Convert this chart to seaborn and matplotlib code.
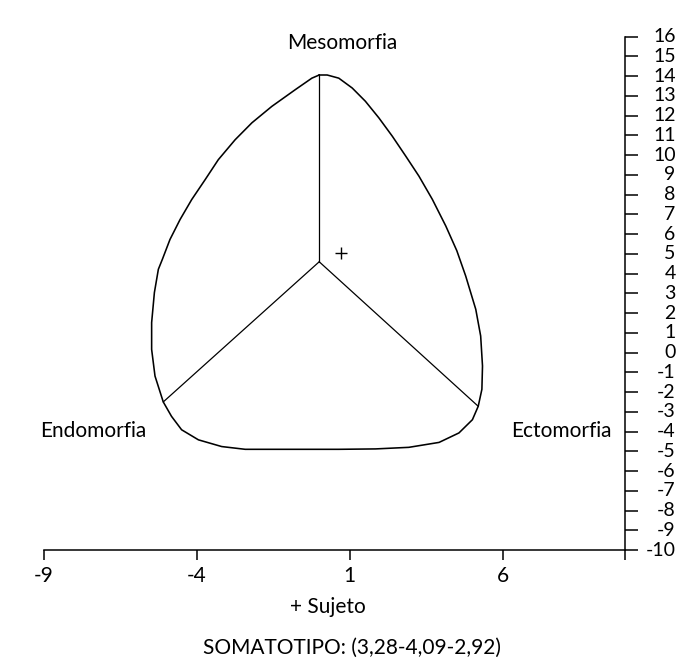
import matplotlib
matplotlib.use("Agg")
import matplotlib.pyplot as plt
import seaborn as sns
import pandas as pd

# ---- data ----
outline_x = [0.0, 0.26, 0.64, 1.08, 1.51, 1.95, 2.39, 2.83, 3.26, 3.70, 4.14, 4.50,
             4.79, 5.12, 5.28, 5.34, 5.32, 5.20, 5.01, 4.57, 3.92, 2.93, 1.84, 0.64,
             -0.34, -1.00, -2.42, -3.19, -3.95, -4.50, -4.83, -5.10, -5.37, -5.48,
             -5.48, -5.39, -5.26, -5.13, -4.88, -4.55, -4.17, -3.73, -3.30, -2.75,
             -2.20, -1.55, -0.78, -0.24, 0.0]
outline_y = [14.06, 14.06, 13.90, 13.40, 12.73, 11.89, 10.96, 9.95, 8.94, 7.76, 6.41, 5.16,
             3.88, 2.19, 0.84, -0.68, -1.86, -2.72, -3.40, -4.07, -4.55, -4.80, -4.88, -4.90,
             -4.90, -4.90, -4.90, -4.76, -4.42, -3.91, -3.23, -2.50, -1.19, 0.16,
             1.52, 3.04, 4.22, 4.72, 5.73, 6.74, 7.75, 8.76, 9.77, 10.78,
             11.64, 12.47, 13.32, 13.90, 14.06]

center_x, center_y = 0.0, 4.60
spoke_end_x = [0.0, -5.10, 5.20]
spoke_end_y = [14.06, -2.50, -2.72]

subject_x = [0.7]
subject_y = [5.05]

x_ticks = [-9, -4, 1, 6, 10]
x_tick_labels = ["-9", "-4", "1", "6", ""]
y_ticks = list(range(-10, 17))
y_tick_labels = [str(v) for v in y_ticks]

vertex_labels = ["Mesomorfia", "Endomorfia", "Ectomorfia"]
legend_text = "+ Sujeto"
title_text = "SOMATOTIPO: (3,28-4,09-2,92)"

# ---- plotting ----
sns.set_theme(style="ticks")
plt.rcParams["font.family"] = ["Lato", "DejaVu Sans"]

fig = plt.figure(figsize=(7.0, 6.71), dpi=100)
left_px, right_px, bottom_px, top_px = 44.0, 625.0, 550.0, 36.7
ax = fig.add_axes([left_px / 700, 1 - bottom_px / 671,
                   (right_px - left_px) / 700, (bottom_px - top_px) / 671])

sns.lineplot(x=outline_x, y=outline_y, sort=False, estimator=None,
             color="black", linewidth=1.15, ax=ax)

spokes = pd.DataFrame({
    "x": [v for ex in spoke_end_x for v in (center_x, ex)],
    "y": [v for ey in spoke_end_y for v in (center_y, ey)],
    "spoke": [i for i in range(3) for _ in (0, 1)],
})
sns.lineplot(data=spokes, x="x", y="y", units="spoke", estimator=None, sort=False,
             color="black", linewidth=0.9, ax=ax)

sns.scatterplot(x=subject_x, y=subject_y, marker="+", s=70, color="black",
                linewidth=1.0, ax=ax)

ax.set_xlim(-9, 10)
ax.set_ylim(-10, 16)
ax.set_xlabel("")
ax.set_ylabel("")

for s in ("left", "top"):
    ax.spines[s].set_visible(False)
for s in ("right", "bottom"):
    ax.spines[s].set_linewidth(1.1)
    ax.spines[s].set_color("black")

ax.set_xticks(x_ticks)
ax.set_xticklabels(x_tick_labels)
ax.yaxis.tick_right()
ax.set_yticks(y_ticks)
ax.set_yticklabels(y_tick_labels)
ax.tick_params(axis="x", direction="out", length=7.2, width=1.1, pad=4.5,
               labelsize=15, colors="black")
ax.tick_params(axis="y", direction="out", length=9.5, width=1.1, pad=27,
               labelsize=14, colors="black")
for lab in ax.get_yticklabels():
    lab.set_horizontalalignment("right")
    lab.set_verticalalignment("center")

ax.text(0.74, 15.7, vertex_labels[0], ha="center", va="center", fontsize=15, color="black")
ax.text(-7.39, -3.95, vertex_labels[1], ha="center", va="center", fontsize=15, color="black")
ax.text(7.91, -3.95, vertex_labels[2], ha="center", va="center", fontsize=15, color="black")

fig.text(327.7 / 700, 1 - 607 / 671, legend_text, ha="center", va="center",
         fontsize=15, color="black")
fig.text(352 / 700, 1 - 648 / 671, title_text, ha="center", va="center",
         fontsize=15, color="black")

fig.savefig("out.png", dpi=100, facecolor="white")
